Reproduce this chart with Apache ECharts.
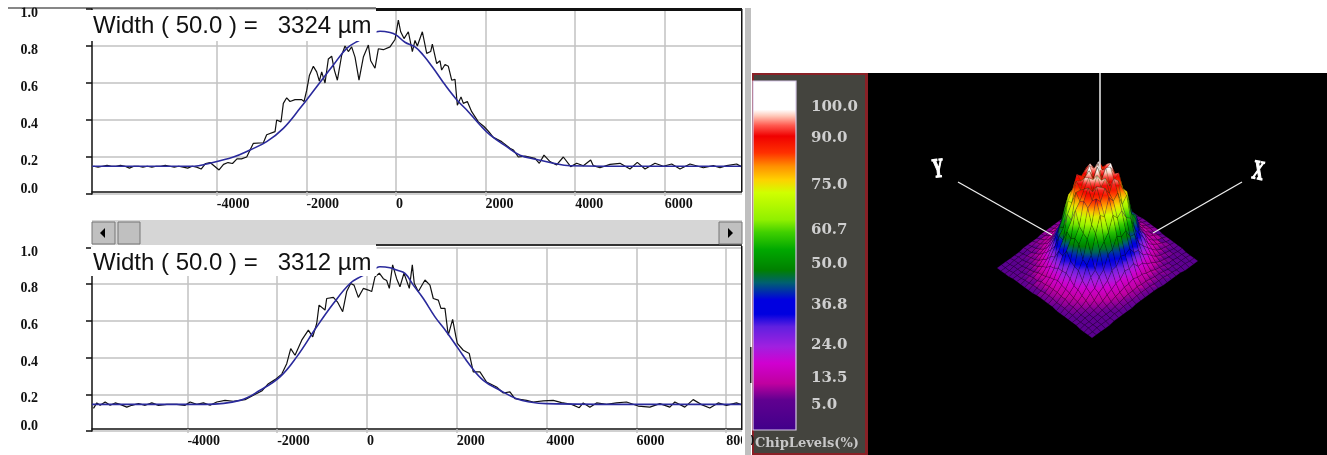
<!DOCTYPE html>
<html><head><meta charset="utf-8">
<style>html,body{margin:0;padding:0;background:#fff}#c{width:1327px;height:455px}</style>
<script src="https://cdn.jsdelivr.net/npm/echarts@6/dist/echarts.min.js"></script>
</head><body><div id="c"></div>
<script>
const topTitle = 'Width ( 50.0 ) =   3324 µm';
const bottomTitle = 'Width ( 50.0 ) =   3312 µm';
const xTicks = [-4000,-2000,0,2000,4000,6000];
const xTicksBottom = [-4000,-2000,0,2000,4000,6000,8000];

const topMeasuredX = [-6750,-6650,-6550,-6450,-6350,-6250,-6150,-6050,-5950,-5850,-5750,-5650,-5550,-5450,-5350,-5250,-5150,-5050,-4950,-4850,-4750,-4650,-4550,-4450,-4350,-4250,-4150,-4050,-3950,-3850,-3750,-3650,-3550,-3450,-3333,-3184,-2961,-2887,-2700,-2664,-2567,-2515,-2440,-2366,-2254,-2105,-2053,-1994,-1934,-1845,-1771,-1711,-1659,-1585,-1510,-1436,-1376,-1309,-1213,-1138,-1064,-990,-915,-826,-729,-617,-565,-469,-394,-283,-134,-22,52,104,179,275,365,424,476,588,685,774,811,908,982,1019,1094,1168,1243,1317,1369,1451,1503,1592,1689,1838,1964,2061,2172,2358,2544,2619,2730,2879,3102,3199,3303,3437,3586,3735,3899,4033,4182,4345,4404,4553,4776,5000,5223,5386,5558,5781,5967,6153,6339,6562,6860,7083,7232,7380,7604,7708];
const topMeasuredY = [.15,.145,.15,.155,.15,.15,.155,.15,.14,.15,.15,.145,.15,.145,.15,.15,.155,.15,.145,.15,.145,.14,.15,.145,.135,.165,.17,.15,.13,.16,.17,.165,.19,.19,.2,.274,.277,.32,.337,.4,.39,.49,.52,.5,.51,.51,.5,.56,.64,.69,.66,.61,.66,.6,.73,.745,.67,.615,.75,.8,.77,.795,.74,.615,.74,.805,.72,.68,.785,.78,.795,.835,.94,.877,.84,.877,.77,.83,.8,.877,.76,.77,.81,.705,.72,.67,.7,.69,.615,.62,.48,.525,.49,.5,.445,.39,.365,.34,.306,.283,.247,.238,.2,.205,.193,.166,.21,.175,.157,.2,.148,.166,.153,.184,.153,.142,.16,.166,.135,.171,.135,.166,.15,.162,.135,.162,.142,.153,.142,.153,.162,.148];
const topFitX = [-6780,-5500,-4500,-4226,-3630,-3259,-2887,-2515,-2143,-1771,-1399,-1101,-826,-432,-357,-134,0,200,424,610,833,1094,1354,1614,1875,2098,2470,2767,3139,3512,3884,5500,7723];
const topFitY = [.15,.15,.15,.162,.2,.238,.283,.355,.463,.58,.697,.787,.83,.877,.88,.873,.86,.82,.795,.75,.68,.59,.51,.445,.373,.32,.256,.21,.187,.166,.153,.15,.15];

const bottomMeasuredX = [-6092,-6018,-5943,-5832,-5721,-5609,-5498,-5350,-5239,-5090,-4941,-4793,-4644,-4459,-4236,-4051,-3940,-3792,-3643,-3495,-3346,-3161,-2975,-2716,-2530,-2345,-2196,-2048,-1899,-1788,-1699,-1603,-1454,-1306,-1209,-1120,-1068,-935,-898,-749,-660,-542,-453,-364,-289,-193,-82,30,104,178,275,364,438,497,571,660,734,824,942,1009,1053,1143,1291,1402,1476,1588,1647,1736,1810,1907,1981,2011,2144,2278,2367,2515,2663,2886,3035,3183,3294,3554,3702,3925,4148,4333,4556,4727,4816,4964,5113,5335,5557,5780,6040,6300,6522,6744,6856,7078,7264,7450,7635,7821,8007,8229,8333];
const bottomMeasuredY = [.123,.153,.14,.158,.14,.153,.145,.13,.14,.15,.14,.153,.14,.145,.145,.14,.158,.145,.153,.14,.158,.167,.162,.171,.195,.218,.258,.28,.31,.367,.449,.413,.495,.55,.513,.586,.686,.659,.722,.728,.704,.65,.76,.804,.795,.728,.777,.768,.76,.84,.86,.83,.82,.777,.905,.83,.786,.86,.777,.905,.804,.76,.823,.795,.722,.713,.668,.668,.522,.608,.513,.477,.44,.422,.322,.322,.267,.24,.207,.213,.176,.167,.158,.164,.167,.155,.145,.127,.153,.13,.153,.145,.153,.158,.136,.13,.149,.13,.158,.13,.171,.144,.125,.153,.14,.153,.144];
const bottomFitX = [-6125,-5000,-3600,-2827,-2382,-1937,-1566,-1120,-749,-378,-119,215,289,512,660,846,1031,1254,1514,1773,2033,2293,2590,2961,3332,3628,4000,6000,8352];
const bottomFitY = [.145,.145,.145,.167,.222,.295,.404,.568,.695,.804,.844,.89,.895,.89,.877,.859,.795,.722,.622,.54,.449,.358,.276,.222,.176,.158,.149,.145,.145];

const chipLabels = [5,13.5,24,36.8,50,60.7,75,90,100];
const levelValues = [-3,6.7,12,18.4,23.7,30,34,38.6,44,48,54.5,60,64,72.6,76.8,81,85.3,90.6,94,97,99,108.3];
const levelColors = ['#40008a','#600090','#c000a0','#d000d0','#a020e0','#6020e0','#0000e0','#0000e0','#006070','#008000','#00a800','#40d000','#90f000','#d0ff00','#ffd000','#ff9000','#ff3000','#f00000','#ff5a50','#ffc8b8','#ffffff','#ffffff'];

// Beam intensity (%) read from the 3D view, rows run from back corner to right corner
const surfaceHeights = [
[5,5,5,6,6,6,6,6,6,7,7,7,7,7,7,6,6,6,6,5,5,5,5,5,5],
[5,6,6,6,6,7,7,8,8,8,9,9,9,9,8,8,8,7,7,6,6,6,5,5,5],
[5,6,6,6,7,7,8,9,9,10,11,12,12,12,11,10,9,8,7,7,6,6,6,5,5],
[5,6,6,7,7,8,9,10,12,14,15,16,18,16,15,13,12,10,9,8,7,6,6,6,5],
[6,6,7,7,8,9,12,14,17,20,22,25,27,24,21,19,16,13,11,9,8,7,6,6,6],
[6,6,7,8,9,12,15,19,25,30,37,34,41,38,31,29,23,18,15,11,9,8,7,6,6],
[6,7,8,9,12,15,19,27,36,39,50,48,58,47,50,38,32,25,19,15,11,9,8,7,6],
[6,7,9,11,14,19,27,31,48,50,66,63,72,70,58,56,41,34,25,18,14,11,9,7,6],
[6,8,9,12,17,25,36,47,58,74,72,87,82,86,74,73,55,47,31,24,16,12,9,8,6],
[6,8,11,14,20,30,39,56,67,90,86,94,91,88,93,81,72,49,44,26,20,13,11,8,6],
[7,8,11,15,22,35,50,59,80,87,96,92,98,90,89,92,74,65,43,35,21,15,11,8,7],
[7,9,12,16,25,33,53,64,88,93,90,100,88,99,95,86,87,62,54,33,24,16,12,9,7],
[7,9,12,18,27,41,50,74,83,97,94,88,102,93,98,90,81,75,50,41,24,18,12,9,7],
[7,9,12,16,24,34,54,63,86,89,99,101,92,100,87,94,84,62,53,34,25,16,12,9,7],
[7,8,11,15,21,36,44,66,74,93,88,86,97,91,95,84,80,58,50,31,22,15,11,8,7],
[6,8,11,13,19,26,44,48,74,80,91,96,85,93,83,89,66,55,38,30,18,14,11,8,6],
[6,8,9,12,16,25,31,47,55,76,70,85,80,87,71,75,60,42,35,23,17,12,9,8,6],
[6,7,9,11,14,18,27,34,42,56,60,70,66,72,58,52,46,30,26,19,14,11,9,7,6],
[6,7,8,9,11,15,20,25,31,43,44,53,50,54,44,42,30,26,18,16,12,9,8,7,6],
[6,6,7,8,9,11,15,20,22,30,31,38,35,37,30,29,22,19,16,12,9,8,7,6,6],
[6,6,7,7,8,9,11,14,16,20,20,26,24,25,20,19,16,14,11,9,8,7,7,6,6],
[5,6,6,7,7,8,9,10,12,13,15,15,17,15,15,13,12,10,9,8,7,7,6,6,5],
[5,6,6,6,7,7,8,9,9,10,11,11,12,11,11,10,9,8,7,7,7,6,6,6,5],
[5,5,6,6,6,7,7,8,8,8,9,9,9,9,8,8,8,7,7,6,6,6,6,5,5],
[5,5,5,5,6,6,6,6,6,7,7,7,7,7,7,6,6,6,6,6,5,5,5,5,5]
];

const zip = (a,b) => a.map((v,i)=>[v,b[i]]);
const black='#111', blue='#2a2a9c', gridC='#c2c2c2';

function levelColor(v){
  let k=0; while(k<levelValues.length-2 && v>levelValues[k+1]) k++;
  const t=Math.max(0,Math.min(1,(v-levelValues[k])/(levelValues[k+1]-levelValues[k])));
  return echarts.color.lerp(t,[levelColors[k],levelColors[k+1]]);
}

const n = surfaceHeights.length;
const cells=[];
for(let s=0;s<=2*(n-2);s++) for(let i=0;i<n-1;i++){ const j=s-i; if(j>=0&&j<n-1) cells.push([i,j]); }

// ground corners of the diamond in the surface grid's own axis units
const back=[235,118], toRight=[95,70], toLeft=[-106,77];
function project(i,j,h){
  const u=i/(n-1), w=j/(n-1);
  return [back[0]+u*toRight[0]+w*toLeft[0], back[1]+u*toRight[1]+w*toLeft[1]-(h-5)*1.0];
}
function renderCell(params,api){
  const i=api.value(0), j=api.value(1);
  const cs=[[i,j],[i+1,j],[i+1,j+1],[i,j+1]];
  const hs=cs.map(c=>surfaceHeights[c[0]][c[1]]);
  const pts=cs.map((c,k)=>api.coord(project(c[0],c[1],hs[k])));
  let hi=0,lo=0; hs.forEach((h,k)=>{ if(h>hs[hi])hi=k; if(h<hs[lo])lo=k; });
  const stops=[0,.25,.5,.75,1].map(t=>({offset:t,color:levelColor(hs[hi]+(hs[lo]-hs[hi])*t)}));
  const same=Math.abs(pts[hi][1]-pts[lo][1])<0.5;
  const fill=same?levelColor(hs[hi]):new echarts.graphic.LinearGradient(0,pts[hi][1],0,pts[lo][1],stops,true);
  return {type:'polygon',shape:{points:pts},style:{fill:fill,stroke:'rgba(0,0,0,0.28)',lineWidth:0.6},silent:true};
}
function renderBar(params,api){
  const a=api.coord([0,levelValues[0]]), b=api.coord([1,levelValues[levelValues.length-1]]);
  const span=levelValues[levelValues.length-1]-levelValues[0];
  const stops=levelValues.map((v,k)=>({offset:(v-levelValues[0])/span,color:levelColors[k]}));
  return {type:'rect',shape:{x:a[0],y:b[1],width:b[0]-a[0],height:a[1]-b[1]},
    style:{fill:new echarts.graphic.LinearGradient(0,1,0,0,stops),stroke:'#d8c8e8',lineWidth:1.2}};
}

const numFont={fontFamily:'Liberation Serif',fontWeight:'bold',fontSize:14,color:'#111'};
function xAxisFor(idx,min,max,ticks){
  return {type:'value',gridIndex:idx,min,max,offset:-2,
    axisLine:{onZero:false,lineStyle:{color:black,width:1.5}},
    axisTick:{customValues:ticks,length:4,lineStyle:{color:gridC,width:1.5}},
    axisLabel:Object.assign({customValues:ticks,align:'left',margin:5},numFont,{formatter:v=>String(v)}),
    splitLine:{show:true,lineStyle:{color:gridC,width:1.5}}};
}
function yAxisFor(idx){
  return {type:'value',gridIndex:idx,min:0,max:1,interval:.2,
    axisLine:{onZero:false,lineStyle:{color:black,width:1.5}},
    axisTick:{length:6,lineStyle:{color:'#111',width:1.5}},
    axisLabel:Object.assign({margin:54,align:'right',verticalAlign:'top',lineHeight:9,verticalAlignMinLabel:'bottom',showMinLabel:true,showMaxLabel:true},numFont,{formatter:v=>v.toFixed(1)}),
    splitLine:{show:true,lineStyle:{color:gridC,width:1.5}}};
}
function lineSeries(idx,data,color,width,smooth){
  return {type:'line',xAxisIndex:idx,yAxisIndex:idx,data,showSymbol:false,symbol:'none',clip:true,animation:false,smooth:smooth,
    lineStyle:{color,width},z:color===blue?4:3};
}
function titleFor(text,top,pb){
  return {text,left:91,top,padding:[4,5,pb,2],backgroundColor:'#fff',z:6,
    textStyle:{fontFamily:'Liberation Sans',fontSize:24,fontWeight:'normal',color:'#111'}};
}
const rect=(x,y,w,h,fill,z,extra)=>Object.assign({type:'rect',shape:{x,y,width:w,height:h},style:{fill},z:z,silent:true},extra||{});
const btn=(x,w)=>rect(x,222,w,22,'#c0c0c0',100,{style:{fill:'#c0c0c0',stroke:'#777',lineWidth:1}});
const tri=(pts)=>({type:'polygon',shape:{points:pts},style:{fill:'#000'},z:101,silent:true});
const dash=(x1,y1,x2,y2,w)=>({type:'line',shape:{x1,y1,x2,y2},style:{stroke:'#eee',lineWidth:w},z:5,silent:true});
const axisLetter=(t,x,y,rot)=>({type:'text',x,y,rotation:rot,scaleX:.85,scaleY:1.5,style:{text:t,fill:'#fff',stroke:'#fff',lineWidth:1,font:'bold 18px "Liberation Serif"',align:'center',verticalAlign:'middle'},z:5,silent:true});

const chart=echarts.init(document.getElementById('c'),null,{renderer:'canvas',width:1327,height:455});
chart.setOption({
  animation:false,
  backgroundColor:'#fff',
  title:[titleFor(topTitle,10,3),titleFor(bottomTitle,247,1)],
  grid:[
    {left:92,top:9,width:650,height:185},
    {left:92,top:247.5,width:650,height:183.5},
    {left:753,top:81,width:43,height:349},
    {left:868,top:73,width:459,height:382}
  ],
  xAxis:[
    xAxisFor(0,-6786,7723,xTicks),
    xAxisFor(1,-6125,8352,xTicksBottom),
    {type:'value',gridIndex:2,min:0,max:1,show:false},
    {type:'value',gridIndex:3,min:0,max:459,show:false}
  ],
  yAxis:[
    yAxisFor(0),yAxisFor(1),
    {type:'value',gridIndex:2,min:-3,max:108.3,position:'right',
      axisLine:{show:false},axisTick:{show:false},splitLine:{show:false},
      axisLabel:{customValues:chipLabels,margin:15,align:'left',color:'#cfcfcf',fontFamily:'DejaVu Serif',fontWeight:'bold',fontSize:15,formatter:v=>v.toFixed(1)}},
    {type:'value',gridIndex:3,min:0,max:382,inverse:true,show:false}
  ],
  series:[
    lineSeries(0,zip(topMeasuredX,topMeasuredY),black,1.2,false),
    lineSeries(0,zip(topFitX,topFitY),blue,1.6,0.4),
    lineSeries(1,zip(bottomMeasuredX,bottomMeasuredY),black,1.2,false),
    lineSeries(1,zip(bottomFitX,bottomFitY),blue,1.6,0.4),
    {type:'custom',xAxisIndex:2,yAxisIndex:2,data:[[0,0]],renderItem:renderBar,silent:true,z:3},
    {type:'custom',xAxisIndex:3,yAxisIndex:3,data:cells,renderItem:renderCell,silent:true,z:3,clip:true,progressive:0}
  ],
  graphic:{elements:[
    // window frame around the plots
    rect(0,0,80,7.5,'#fff',99),
    rect(8,7.5,368,1,'#111',100),
    rect(376,8,366,3,'#111',100),
    rect(741,9,1.5,183,'#111',100),
    rect(742,0,3,455,'#fff',99),
    rect(745,8,6,447,'#bfbfbf',100),
    rect(750,347,1.5,36,'#222',101),
    rect(741,246,1.5,184,'#111',100),
    rect(376,244,366,2,'#333',100),
    // scrollbar
    rect(92,220,650,25,'#d6d6d6',99),
    btn(92,23),btn(118,22),btn(719,23),
    tri([[105,228],[105,238],[100,233]]),
    tri([[728,228],[728,238],[733,233]]),
    // colour scale panel
    rect(752,73,116,382,'#8a2026',-2),
    rect(754,75,111,378,'#44443e',-1),
    {type:'text',x:755,y:444,style:{text:'ChipLevels(%)',fill:'#c8c8c8',font:'bold 13px "DejaVu Serif"',verticalAlign:'middle'},z:5,silent:true},
    // 3D view
    rect(868,73,459,382,'#000',-1),
    dash(1100,73,1100,170,1.5),
    dash(958,182,1052,235,1.3),
    dash(1242,182,1153,233,1.3),
    axisLetter('Y',938,170,0.1),
    axisLetter('X',1258,172,-0.2)
  ]}
});
</script></body></html>
